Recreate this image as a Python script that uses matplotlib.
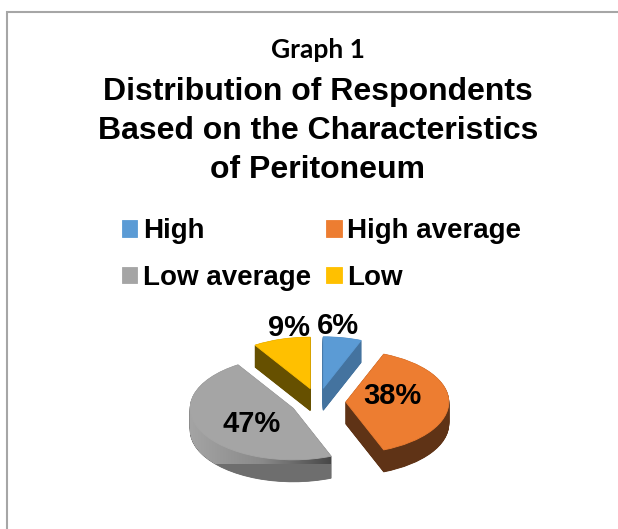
"""
Graph 1 - distribution of respondents by peritoneum characteristics (3-D pie).
"""

import numpy as np
import matplotlib
matplotlib.use("Agg")
import matplotlib.pyplot as plt
from matplotlib.path import Path
from matplotlib.patches import PathPatch, Rectangle
from matplotlib.font_manager import FontProperties

# ── Data ───────────────────────────────────────────────────────────────────────

CATEGORIES = ["High", "High average", "Low average", "Low"]
PERCENT    = [6, 38, 47, 9]

TOP_COLORS  = ["#5b9bd5", "#ed7d31", "#a5a5a5", "#ffc000"]
SIDE_COLORS = ["#44739f", "#5f3316", "#6e6e6e", "#665000"]

TITLE_SMALL = "Graph 1"
TITLE_LINES = ["Distribution of Respondents",
               "Based on the Characteristics",
               "of Peritoneum"]

# ── Layout (pixels) ────────────────────────────────────────────────────────────

W, H    = 618, 529
SQUASH  = 0.5          # vertical squash of the pie (tilt)
CX, CY  = 318, 402     # pie centre, px from top-left
RADIUS  = 103
DEPTH   = 22           # px
EXPLODE = 0.27         # fraction of the radius

BOLD = FontProperties(family=["Liberation Sans", "DejaVu Sans"], weight="bold")


def main():
    fig = plt.figure(figsize=(W / 100, H / 100), dpi=100)
    ax = fig.add_axes([0, 0, 1, 1])

    cy = (H - CY) / SQUASH
    depth = DEPTH / SQUASH
    # pie() offsets exploded wedges in data units, so scale by the radius
    explode = [EXPLODE * RADIUS] * len(PERCENT)

    # back-to-front order of slices from their mid angles
    frac = np.array(PERCENT) / sum(PERCENT)
    ends = 90 - 360 * np.cumsum(frac)
    mids = ends + 180 * frac
    rank = np.argsort(np.argsort(-np.sin(np.radians(mids))))

    # side: stack of darker pies shifted downwards
    side_paths = {i: [] for i in range(len(PERCENT))}
    for t in np.linspace(depth, 0.5, 44):
        wedges, _ = ax.pie(PERCENT, explode=explode, startangle=90,
                           counterclock=False, radius=RADIUS,
                           center=(CX, cy - t), colors=SIDE_COLORS,
                           wedgeprops=dict(linewidth=0.6))
        for i, w in enumerate(wedges):
            w.set_edgecolor(SIDE_COLORS[i])
            w.set_zorder(1 + 2 * rank[i])
            side_paths[i].append(w.get_path())

    # gradient shading on the grey side
    g = CATEGORIES.index("Low average")
    clip = PathPatch(Path.make_compound_path(*side_paths[g]),
                     transform=ax.transData, facecolor="none", edgecolor="none")
    ax.add_patch(clip)
    grad = np.linspace(0, 1, 256).reshape(1, -1)
    cmap = matplotlib.colors.LinearSegmentedColormap.from_list(
        "side", ["#a6a6a6", "#8a8a8a", "#404040"])
    img = ax.imshow(grad, cmap=cmap, aspect="auto", interpolation="bilinear",
                    extent=(CX - 1.3 * RADIUS, CX + 0.2 * RADIUS,
                            cy - depth - 80, cy + 20),
                    zorder=1.5 + 2 * rank[g])
    img.set_clip_path(clip)

    # top face with percentage labels
    wedges, _, pcts = ax.pie(PERCENT, explode=explode, startangle=90,
                             counterclock=False, radius=RADIUS,
                             center=(CX, cy), colors=TOP_COLORS,
                             autopct="%1.0f%%", pctdistance=0.45,
                             wedgeprops=dict(linewidth=0.6))
    for i, (w, txt) in enumerate(zip(wedges, pcts)):
        w.set_edgecolor(TOP_COLORS[i])
        w.set_zorder(2 + 2 * rank[i])
        txt.set_fontproperties(BOLD)
        txt.set_fontsize(21)
        txt.set_zorder(20)
        x0, y0 = w.center
        a = np.radians(mids[i])
        if PERCENT[i] < 10:
            # small slices: label sits above the slice
            txt.set_position((x0 + 0.75 * RADIUS * np.cos(a),
                              y0 + 1.23 * RADIUS * np.sin(a)))
        else:
            txt.set_position((x0 + 0.45 * RADIUS * np.cos(a),
                              y0 + 0.45 * RADIUS * np.sin(a)
                              + 0.12 * RADIUS * np.cos(a)))

    ax.set_aspect("auto")
    ax.set_xlim(0, W)
    ax.set_ylim(0, H / SQUASH)
    ax.set_axis_off()

    # titles
    fig.text(CX / W, 1 - 50 / H, TITLE_SMALL, ha="center", va="center",
             fontsize=19, fontweight="bold", family=["Lato", "DejaVu Sans"])
    for k, line in enumerate(TITLE_LINES):
        fig.text(CX / W, 1 - (92 + 39 * k) / H, line, ha="center", va="center",
                 fontproperties=BOLD, fontsize=23)

    # legend: two rows, filled column-wise
    order = [0, 2, 1, 3]
    fig.legend([wedges[i] for i in order], [CATEGORIES[i] for i in order],
               ncol=2, loc="upper left", bbox_to_anchor=(122 / W, 1 - 218 / H),
               frameon=False, prop=FontProperties(family=["Liberation Sans"],
                                                  weight="bold", size=20),
               handlelength=0.55, handleheight=0.55, handletextpad=0.2,
               columnspacing=0.55, labelspacing=0.75,
               borderpad=0, borderaxespad=0)

    # chart-area border
    fig.patches.append(Rectangle((7 / W, -0.1), 1.2, 1.1 - 12 / H,
                                 transform=fig.transFigure, fill=False,
                                 edgecolor="#a6a6a6", linewidth=1.5))

    fig.savefig("out.png", dpi=100)
    plt.close(fig)


if __name__ == "__main__":
    main()
